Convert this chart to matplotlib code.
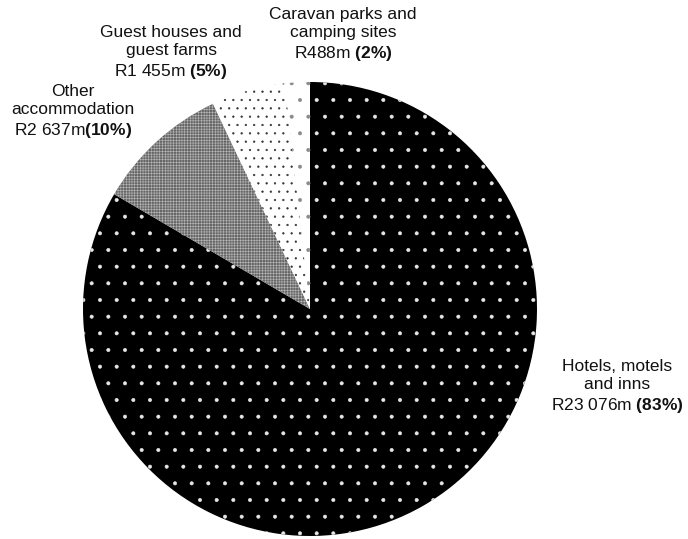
import matplotlib
matplotlib.use("Agg")
import matplotlib.pyplot as plt

categories = ["Hotels, motels\nand inns", "Other\naccommodation",
              "Guest houses and\nguest farms", "Caravan parks and\ncamping sites"]
values = [23076, 2637, 1455, 488]  # R million

plt.rcParams['font.family'] = ['Liberation Sans', 'DejaVu Sans']
plt.rcParams['mathtext.fontset'] = 'custom'
plt.rcParams['mathtext.rm'] = 'Liberation Sans'
plt.rcParams['mathtext.bf'] = 'Liberation Sans:bold'
plt.rcParams['hatch.linewidth'] = 0.4

W, H = 688, 539
fig = plt.figure(figsize=(W / 100, H / 100), dpi=100)
cx, cy, r = 310, 309, 227
ax = fig.add_axes([(cx - r) / W, (H - cy - r) / H, 2 * r / W, 2 * r / H])

faces = ['black', '#666666', 'white', 'white']
hatch_cols = ['#e8e8e8', '#b8b8b8', '#333333', '#8a8a8a']
hatches = ['.', '++++++', '..', '.']

wedges, _ = ax.pie(values, startangle=90, counterclock=False, radius=1,
                   center=(0, 0), frame=True)
ax.set_xlim(-1, 1)
ax.set_ylim(-1, 1)
ax.axis('off')
for w, fc, hc, h in zip(wedges, faces, hatch_cols, hatches):
    w.set_facecolor(fc)
    w.set_edgecolor(hc)
    w.set_linewidth(0)
    w.set_hatch(h)

total = sum(values)
label_pos = [(617, 387), (73, 112), (171, 53), (343, 35)]
for cat, v, (px, py) in zip(categories, values, label_pos):
    pct = round(v / total * 100)
    amt = "R" + f"{v:,}".replace(",", " ") + "m"
    sep = "" if cat.startswith("Other") else " "
    txt = cat + "\n" + amt + sep + r"$\mathbf{(" + str(pct) + r"\%)}$"
    fig.text(px / W, 1 - py / H, txt, ha='center', va='center',
             multialignment='center', fontsize=12.5, linespacing=1.3,
             color='#111111')

fig.savefig("out.png", dpi=100)
